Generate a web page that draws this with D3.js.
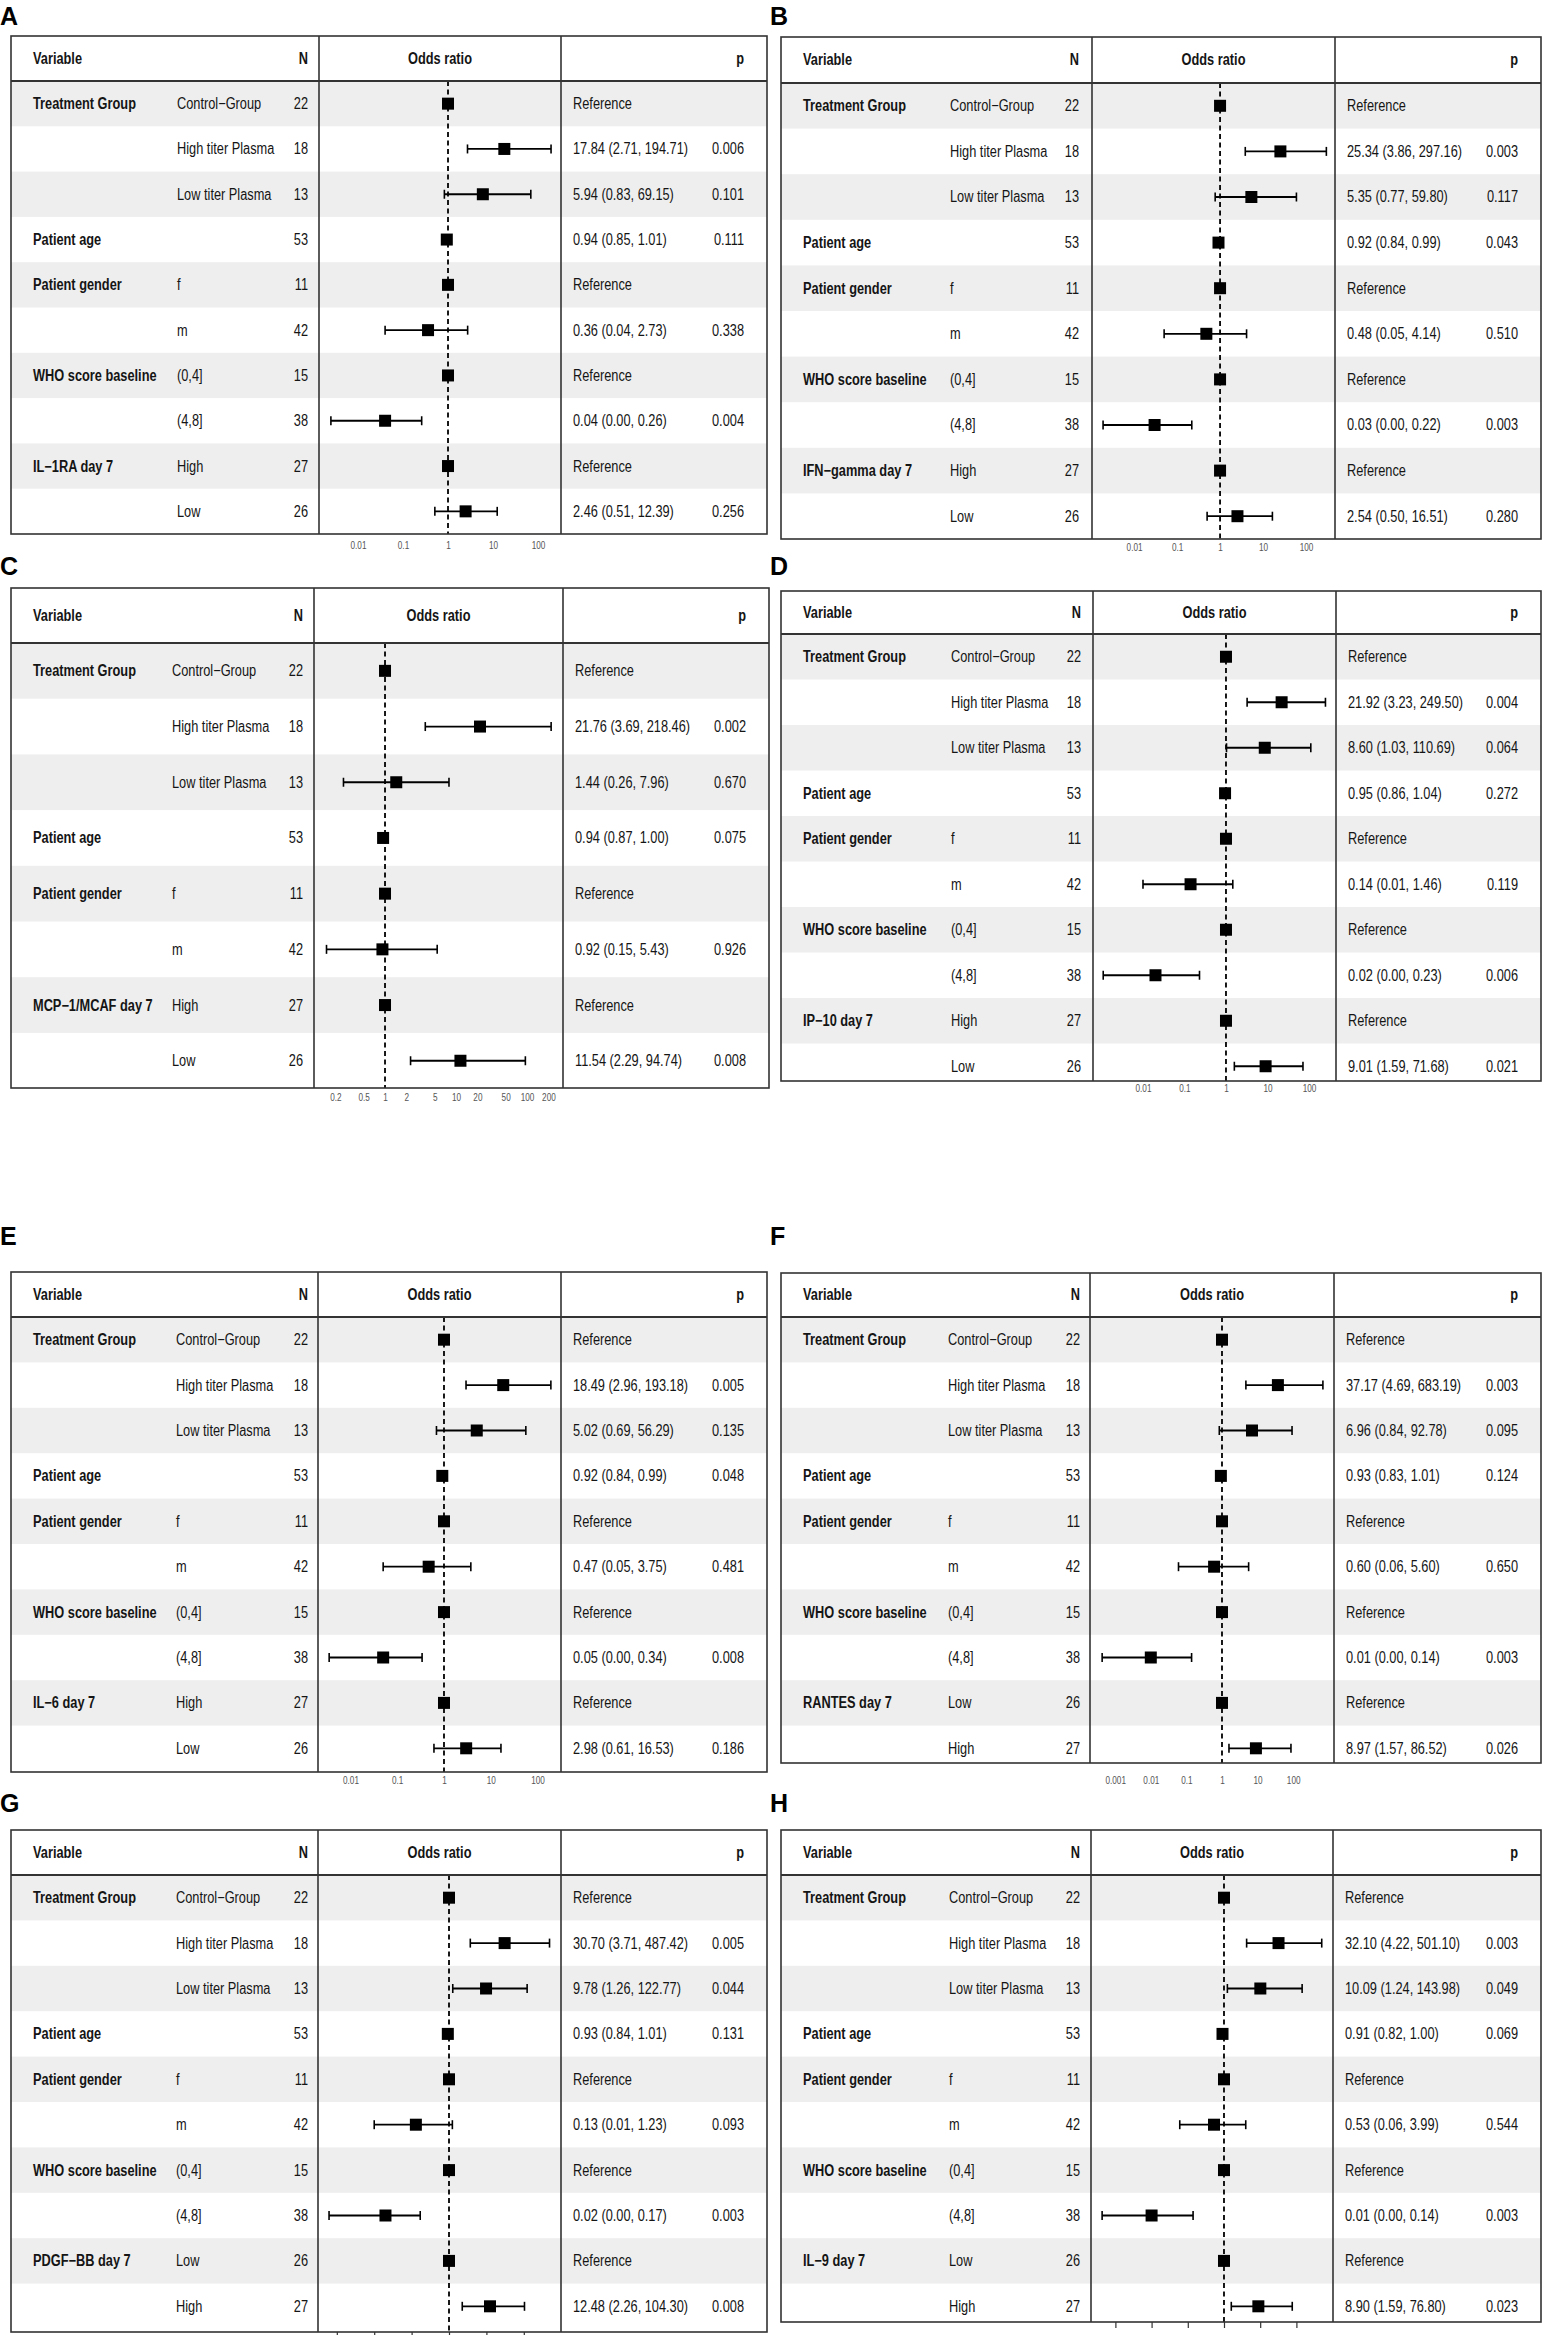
<!DOCTYPE html>
<html>
<head>
<meta charset="utf-8">
<script src="https://cdn.jsdelivr.net/npm/d3@7"></script>
<style>
  html, body { margin: 0; padding: 0; background: #ffffff; }
  svg { display: block; }
</style>
</head>
<body>
<div id="chart"></div>
<script>
// ---------------- DATA ----------------
const panelLetters = ["A", "B", "C", "D", "E", "F", "G", "H"];

const baseVariables = ["Treatment Group", "", "", "Patient age", "Patient gender", "", "WHO score baseline", ""];
const baseLevels = ["Control\u2212Group", "High titer Plasma", "Low titer Plasma", "", "f", "m", "(0,4]", "(4,8]"];
const baseN = [22, 18, 13, 53, 11, 42, 15, 38];
const includeWHO = [true, true, false, true, true, true, true, true];

const cytokineNames = ["IL\u22121RA day 7", "IFN\u2212gamma day 7", "MCP\u22121/MCAF day 7", "IP\u221210 day 7",
                       "IL\u22126 day 7", "RANTES day 7", "PDGF\u2212BB day 7", "IL\u22129 day 7"];
const cytokineLevels = [["High", "Low"], ["High", "Low"], ["High", "Low"], ["High", "Low"],
                        ["High", "Low"], ["Low", "High"], ["Low", "High"], ["Low", "High"]];
const cytokineN = [[27, 26], [27, 26], [27, 26], [27, 26], [27, 26], [26, 27], [26, 27], [26, 27]];

// odds ratio, lower CI, upper CI, p (null = reference level)
const orA   = [null, 17.84, 5.94, 0.94, null, 0.36, null, 0.04, null, 2.46];
const lowA  = [null, 2.71, 0.83, 0.85, null, 0.04, null, 0.0025, null, 0.51];
const highA = [null, 194.71, 69.15, 1.01, null, 2.73, null, 0.26, null, 12.39];
const pA    = [null, 0.006, 0.101, 0.111, null, 0.338, null, 0.004, null, 0.256];

const orB   = [null, 25.34, 5.35, 0.92, null, 0.48, null, 0.03, null, 2.54];
const lowB  = [null, 3.86, 0.77, 0.84, null, 0.05, null, 0.0019, null, 0.50];
const highB = [null, 297.16, 59.80, 0.99, null, 4.14, null, 0.22, null, 16.51];
const pB    = [null, 0.003, 0.117, 0.043, null, 0.510, null, 0.003, null, 0.280];

const orC   = [null, 21.76, 1.44, 0.94, null, 0.92, null, 11.54];
const lowC  = [null, 3.69, 0.26, 0.87, null, 0.15, null, 2.29];
const highC = [null, 218.46, 7.96, 1.00, null, 5.43, null, 94.74];
const pC    = [null, 0.002, 0.670, 0.075, null, 0.926, null, 0.008];

const orD   = [null, 21.92, 8.60, 0.95, null, 0.14, null, 0.02, null, 9.01];
const lowD  = [null, 3.23, 1.03, 0.86, null, 0.01, null, 0.0011, null, 1.59];
const highD = [null, 249.50, 110.69, 1.04, null, 1.46, null, 0.23, null, 71.68];
const pD    = [null, 0.004, 0.064, 0.272, null, 0.119, null, 0.006, null, 0.021];

const orE   = [null, 18.49, 5.02, 0.92, null, 0.47, null, 0.05, null, 2.98];
const lowE  = [null, 2.96, 0.69, 0.84, null, 0.05, null, 0.0035, null, 0.61];
const highE = [null, 193.18, 56.29, 0.99, null, 3.75, null, 0.34, null, 16.53];
const pE    = [null, 0.005, 0.135, 0.048, null, 0.481, null, 0.008, null, 0.186];

const orF   = [null, 37.17, 6.96, 0.93, null, 0.60, null, 0.01, null, 8.97];
const lowF  = [null, 4.69, 0.84, 0.83, null, 0.06, null, 0.00043, null, 1.57];
const highF = [null, 683.19, 92.78, 1.01, null, 5.60, null, 0.14, null, 86.52];
const pF    = [null, 0.003, 0.095, 0.124, null, 0.650, null, 0.003, null, 0.026];

const orG   = [null, 30.70, 9.78, 0.93, null, 0.13, null, 0.02, null, 12.48];
const lowG  = [null, 3.71, 1.26, 0.84, null, 0.01, null, 0.00062, null, 2.26];
const highG = [null, 487.42, 122.77, 1.01, null, 1.23, null, 0.17, null, 104.30];
const pG    = [null, 0.005, 0.044, 0.131, null, 0.093, null, 0.003, null, 0.008];

const orH   = [null, 32.10, 10.09, 0.91, null, 0.53, null, 0.01, null, 8.90];
const lowH  = [null, 4.22, 1.24, 0.82, null, 0.06, null, 0.00043, null, 1.59];
const highH = [null, 501.10, 143.98, 1.00, null, 3.99, null, 0.14, null, 76.80];
const pH    = [null, 0.003, 0.049, 0.069, null, 0.544, null, 0.003, null, 0.023];

const ticksDecade = [0.01, 0.1, 1, 10, 100];
const ticksFine   = [0.2, 0.5, 1, 2, 5, 10, 20, 50, 100, 200];
const ticksWide   = [0.001, 0.01, 0.1, 1, 10, 100];

const headerLabels = ["Variable", "N", "Odds ratio", "p"];
const referenceLabel = "Reference";

const estimates = [
  [orA, lowA, highA, pA], [orB, lowB, highB, pB], [orC, lowC, highC, pC], [orD, lowD, highD, pD],
  [orE, lowE, highE, pE], [orF, lowF, highF, pF], [orG, lowG, highG, pG], [orH, lowH, highH, pH]
];
const panelTicks = [ticksDecade, ticksDecade, ticksFine, ticksDecade, ticksDecade, ticksWide, ticksWide, ticksWide];
// tick labels of panels G and H fall below the bottom edge of the figure
const showTickLabels = [true, true, true, true, true, true, false, false];
// axis range of each forest column (odds ratio scale)
const panelDomains = [[0.00136, 324], [0.00105, 472], [0.1, 321], [0.000624, 448],
                      [0.00202, 318], [0.000196, 1400], [0.000314, 988], [0.000212, 1026]];

// ---------------- LAYOUT ----------------
const W = 1544, H = 2335;
const layout = [
  {x0: 11,  x1: 767,  top: 36,   hb: 81,   rowH: 45.3, bottom: 534,  c1: 319,  c2: 561,  levelX: 177, nRight: 308,  labelY: 546,  lx: 0,   ly: 25,   tick: 0},
  {x0: 781, x1: 1541, top: 37,   hb: 83,   rowH: 45.6, bottom: 539,  c1: 1092, c2: 1335, levelX: 950, nRight: 1079, labelY: 548,  lx: 770, ly: 25,   tick: 0},
  {x0: 11,  x1: 769,  top: 588,  hb: 643,  rowH: 55.7, bottom: 1088, c1: 314,  c2: 563,  levelX: 172, nRight: 303,  labelY: 1098, lx: 0,   ly: 575,  tick: 0},
  {x0: 781, x1: 1541, top: 591,  hb: 634,  rowH: 45.5, bottom: 1081, c1: 1093, c2: 1336, levelX: 951, nRight: 1081, labelY: 1089, lx: 770, ly: 575,  tick: 0},
  {x0: 11,  x1: 767,  top: 1272, hb: 1317, rowH: 45.4, bottom: 1772, c1: 318,  c2: 561,  levelX: 176, nRight: 308,  labelY: 1781, lx: 0,   ly: 1245, tick: 0},
  {x0: 781, x1: 1541, top: 1273, hb: 1317, rowH: 45.4, bottom: 1763, c1: 1090, c2: 1334, levelX: 948, nRight: 1080, labelY: 1781, lx: 770, ly: 1245, tick: 0},
  {x0: 11,  x1: 767,  top: 1830, hb: 1875, rowH: 45.4, bottom: 2332, c1: 318,  c2: 561,  levelX: 176, nRight: 308,  labelY: 2346, lx: 0,   ly: 1812, tick: 5},
  {x0: 781, x1: 1541, top: 1830, hb: 1875, rowH: 45.4, bottom: 2322, c1: 1091, c2: 1333, levelX: 949, nRight: 1080, labelY: 2340, lx: 770, ly: 1812, tick: 6}
];

// ---------------- FONT ----------------
function hasFont(f) {
  const c = document.createElement("canvas").getContext("2d");
  const s = "abcdefghijklmnopqrstuvwxyz0123456789";
  c.font = "40px monospace";
  const a = c.measureText(s).width;
  c.font = `40px "${f}", monospace`;
  const b = c.measureText(s).width;
  return Math.abs(a - b) > 0.5;
}
const narrowOK = hasFont("Liberation Sans Narrow");
const FAM = narrowOK ? '"Liberation Sans Narrow", "Liberation Sans", Arial, sans-serif'
                     : '"Liberation Sans", Arial, sans-serif';
const SX = narrowOK ? 1 : 0.82;
const FS = 15.6;

// ---------------- DRAW ----------------
const svg = d3.select("#chart").append("svg")
  .attr("width", W).attr("height", H).attr("viewBox", `0 0 ${W} ${H}`);
svg.append("rect").attr("width", W).attr("height", H).attr("fill", "#ffffff");

function addText(g, x, y, s, o = {}) {
  return g.append("text")
    .attr("transform", `translate(${x},${y}) scale(${o.sx ?? SX},1)`)
    .attr("dy", "0.35em")
    .attr("text-anchor", o.anchor || "start")
    .style("font-family", o.family || FAM)
    .style("font-weight", o.weight || "normal")
    .style("font-size", (o.size || FS) + "px")
    .attr("fill", o.fill || "#151515")
    .text(s);
}

panelLetters.forEach((letter, pi) => {
  const L = layout[pi];
  const [orV, loV, hiV, pV] = estimates[pi];

  // build the row table
  const rows = [];
  baseVariables.forEach((v, i) => {
    if (!includeWHO[pi] && (i === 6 || i === 7)) return;
    rows.push({variable: v, level: baseLevels[i], n: baseN[i]});
  });
  rows.push({variable: cytokineNames[pi], level: cytokineLevels[pi][0], n: cytokineN[pi][0]});
  rows.push({variable: "", level: cytokineLevels[pi][1], n: cytokineN[pi][1]});
  rows.forEach((r, i) => { r.or = orV[i]; r.lo = loV[i]; r.hi = hiV[i]; r.p = pV[i]; r.idx = i; });

  const g = svg.append("g");
  const yOf = i => L.hb + L.rowH * (i + 0.5);
  const x = d3.scaleLog().domain(panelDomains[pi]).range([L.c1, L.c2]);

  // panel letter
  addText(g, L.lx, L.ly, letter, {weight: "bold", size: 25, family: '"Liberation Sans", Arial, sans-serif', sx: 1, fill: "#000"})
    .attr("dy", 0);

  // alternating grey bands
  g.selectAll("rect.band").data(rows.filter(r => r.idx % 2 === 0)).join("rect")
    .attr("class", "band")
    .attr("x", L.x0).attr("width", L.x1 - L.x0)
    .attr("y", r => L.hb + r.idx * L.rowH)
    .attr("height", r => Math.min(L.rowH, L.bottom - (L.hb + r.idx * L.rowH)))
    .attr("fill", "#eeeeee");

  // reference line at OR = 1
  g.append("line")
    .attr("x1", x(1)).attr("x2", x(1)).attr("y1", L.hb).attr("y2", L.bottom)
    .attr("stroke", "#000").attr("stroke-width", 1.8).attr("stroke-dasharray", "5,3.5");

  // CI whiskers
  const est = rows.filter(r => r.or !== null);
  g.selectAll("line.ci").data(est).join("line").attr("class", "ci")
    .attr("x1", r => x(r.lo)).attr("x2", r => x(r.hi))
    .attr("y1", r => yOf(r.idx)).attr("y2", r => yOf(r.idx))
    .attr("stroke", "#000").attr("stroke-width", 1.8);
  ["lo", "hi"].forEach(k => {
    g.selectAll("line.cap" + k).data(est).join("line").attr("class", "cap" + k)
      .attr("x1", r => x(r[k])).attr("x2", r => x(r[k]))
      .attr("y1", r => yOf(r.idx) - 4.5).attr("y2", r => yOf(r.idx) + 4.5)
      .attr("stroke", "#000").attr("stroke-width", 1.6);
  });

  // point estimates (reference levels at 1)
  const sq = 12;
  g.selectAll("rect.pt").data(rows).join("rect").attr("class", "pt")
    .attr("x", r => x(r.or === null ? 1 : r.or) - sq / 2)
    .attr("y", r => yOf(r.idx) - sq / 2)
    .attr("width", sq).attr("height", sq)
    .attr("fill", "#000");

  // header texts
  const hy = (L.top + L.hb) / 2;
  addText(g, L.x0 + 22, hy, headerLabels[0], {weight: "bold"});
  addText(g, L.nRight, hy, headerLabels[1], {weight: "bold", anchor: "end"});
  addText(g, (L.c1 + L.c2) / 2, hy, headerLabels[2], {weight: "bold", anchor: "middle"});
  addText(g, L.x1 - 23, hy, headerLabels[3], {weight: "bold", anchor: "end"});

  // row texts
  rows.forEach(r => {
    const y = yOf(r.idx);
    if (r.variable) addText(g, L.x0 + 22, y, r.variable, {weight: "bold"});
    if (r.level) addText(g, L.levelX, y, r.level);
    addText(g, L.nRight, y, String(r.n), {anchor: "end"});
    if (r.or === null) {
      addText(g, L.c2 + 12, y, referenceLabel);
    } else {
      addText(g, L.c2 + 12, y, `${r.or.toFixed(2)} (${r.lo.toFixed(2)}, ${r.hi.toFixed(2)})`);
      addText(g, L.x1 - 23, y, r.p.toFixed(3), {anchor: "end"});
    }
  });

  // table frame
  const stroke = "#333333";
  g.append("rect").attr("x", L.x0).attr("y", L.top)
    .attr("width", L.x1 - L.x0).attr("height", L.bottom - L.top)
    .attr("fill", "none").attr("stroke", stroke).attr("stroke-width", 1.6);
  [L.c1, L.c2].forEach(cx => g.append("line")
    .attr("x1", cx).attr("x2", cx).attr("y1", L.top).attr("y2", L.bottom)
    .attr("stroke", stroke).attr("stroke-width", 1.6));
  g.append("line").attr("x1", L.x0).attr("x2", L.x1).attr("y1", L.hb).attr("y2", L.hb)
    .attr("stroke", stroke).attr("stroke-width", 2.2);

  // x axis
  const axis = d3.axisBottom(x)
    .tickValues(panelTicks[pi])
    .tickFormat(d => showTickLabels[pi] ? String(d) : "")
    .tickSize(L.tick)
    .tickPadding(0);
  const ag = g.append("g").attr("transform", `translate(0,${L.bottom})`).call(axis);
  ag.select(".domain").remove();
  ag.selectAll(".tick line").attr("stroke", "#333").attr("stroke-width", 1.2);
  if (showTickLabels[pi]) {
    ag.selectAll(".tick text")
      .attr("y", L.labelY - L.bottom).attr("dy", "0.35em")
      .attr("transform", `scale(${SX},1)`)
      .style("font-family", FAM).style("font-size", "10px").attr("fill", "#555");
  } else {
    ag.selectAll(".tick text").remove();
  }
});
</script>
</body>
</html>
